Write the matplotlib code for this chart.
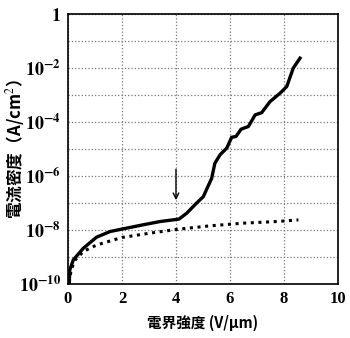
import matplotlib.pyplot as plt
import numpy as np

# solid curve: field (V/um) and log10 current density
solid_x = [0.05, 0.07, 0.2, 0.57, 1.06, 1.56, 2.0, 2.79, 3.41, 4.11, 4.4, 4.77, 5.01,
           5.32, 5.44, 5.63, 5.88, 6.06, 6.22, 6.41, 6.68, 6.93, 7.17, 7.48, 7.85,
           8.1, 8.34, 8.59]
solid_log = [-9.95, -9.48, -9.11, -8.68, -8.27, -8.06, -7.97, -7.81, -7.69, -7.6, -7.38,
             -7.0, -6.77, -6.09, -5.53, -5.22, -4.97, -4.57, -4.54, -4.27, -4.17, -3.74,
             -3.66, -3.25, -2.94, -2.69, -2.01, -1.64]

# dotted curve
dot_x = [0.05, 0.12, 0.27, 0.57, 1.06, 2.0, 3.04, 4.11, 5.26, 6.49, 7.73, 8.53]
dot_log = [-9.95, -9.48, -9.11, -8.8, -8.56, -8.28, -8.12, -7.97, -7.85, -7.75, -7.69, -7.63]

y_ticks = [1e-10, 1e-8, 1e-6, 1e-4, 1e-2, 1]
y_labels = [r'$\mathbf{10^{-10}}$', r'$\mathbf{10^{-8}}$', r'$\mathbf{10^{-6}}$',
            r'$\mathbf{10^{-4}}$', r'$\mathbf{10^{-2}}$', r'$\mathbf{1}$']
x_ticks = [0, 2, 4, 6, 8, 10]

plt.rcParams['mathtext.fontset'] = 'stix'

fig = plt.figure(figsize=(3.5, 3.38), dpi=100)
ax = fig.add_axes([0.194, 0.160, 0.772, 0.799])

ax.plot(solid_x, 10 ** np.array(solid_log), color='black', lw=2.4, solid_joinstyle='round')
ax.plot(dot_x, 10 ** np.array(dot_log), color='black', lw=2.2, linestyle=(0, (1, 1.5)))

ax.annotate('', xy=(4.0, 1e-7), xytext=(4.0, 10 ** -5.65),
            arrowprops=dict(arrowstyle='->', color='black', lw=1.0))

ax.set_yscale('log')
ax.set_xlim(0, 10)
ax.set_ylim(1e-10, 1)
ax.set_xticks(x_ticks)
ax.set_xticklabels([str(t) for t in x_ticks], family='Liberation Serif',
                   fontweight='bold', fontsize=12)
ax.set_yticks(y_ticks)
ax.set_yticklabels(y_labels, fontsize=13)
ax.set_yticks([10.0 ** k for k in range(-9, 0, 2)], minor=True)
ax.yaxis.set_minor_formatter(plt.NullFormatter())
ax.tick_params(axis='both', which='both', length=0, pad=5)

ax.grid(True, which='both', color='#777777', linestyle=':', linewidth=0.9)
for s in ax.spines.values():
    s.set_linewidth(1.2)

ax.set_xlabel('電界強度 (V/μm)', family=['Noto Sans CJK JP', 'DejaVu Sans'],
              fontweight='bold', fontsize=10.5, labelpad=6)
ax.set_ylabel('電流密度（A/cm$^{2}$）', family=['Noto Sans CJK JP', 'DejaVu Sans'],
              fontweight='bold', fontsize=12)
ax.yaxis.set_label_coords(-0.15, 0.5)

fig.savefig('out.png', dpi=100)
